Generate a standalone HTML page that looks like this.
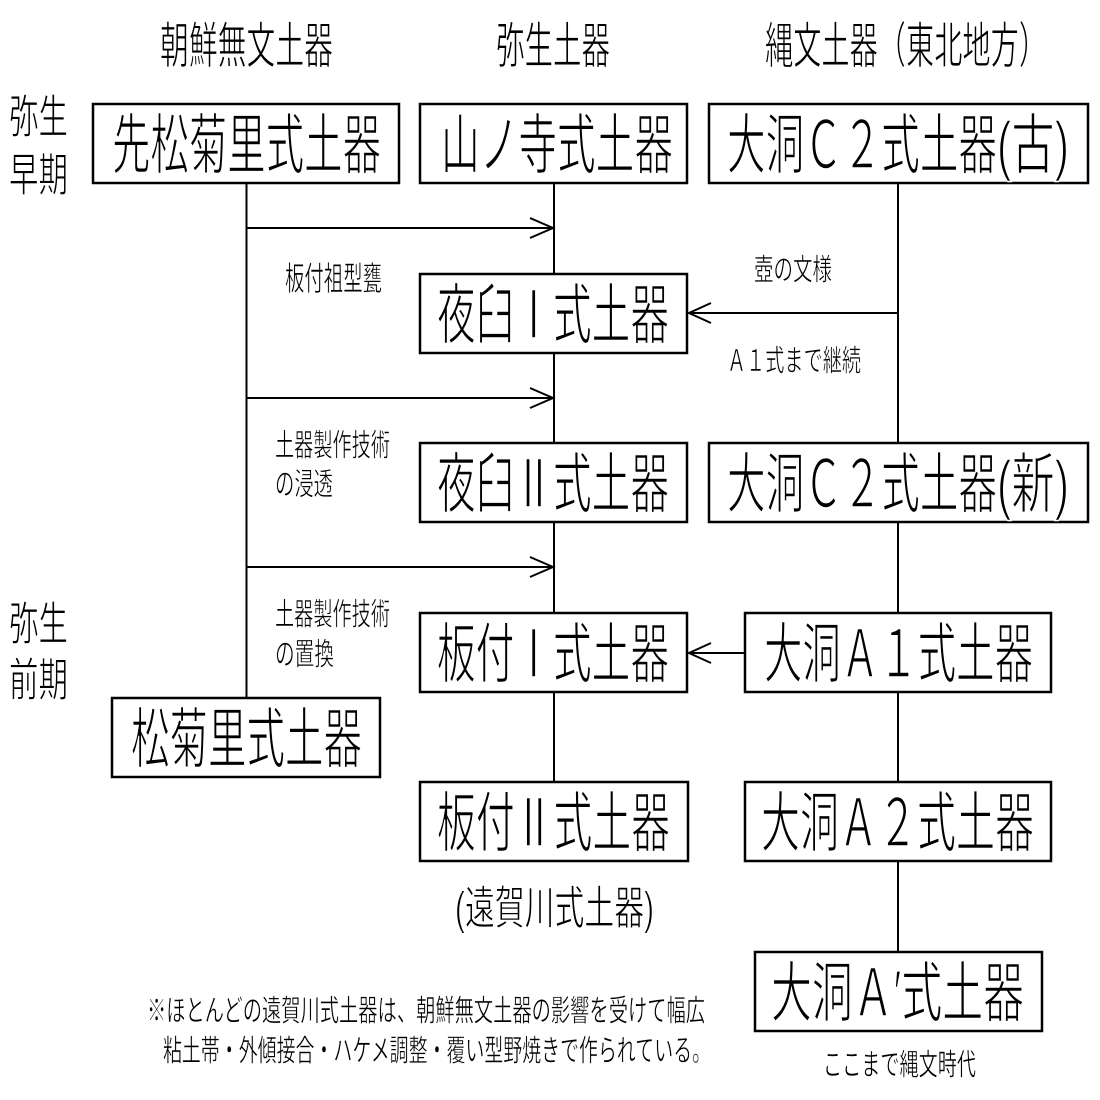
<!DOCTYPE html>
<html><head><meta charset="utf-8"><style>
html,body{margin:0;padding:0;background:#fff;}
svg{display:block;}
text{font-family:"Liberation Sans","Noto Sans CJK JP",sans-serif;fill:#000;}
</style></head><body>
<svg width="1100" height="1100" viewBox="0 0 1100 1100" xmlns="http://www.w3.org/2000/svg">
<rect width="1100" height="1100" fill="#fff"/>
<g stroke="#000" stroke-width="2" fill="none">
<line x1="246.5" y1="183" x2="246.5" y2="698"/>
<line x1="554" y1="183" x2="554" y2="782"/>
<line x1="898" y1="183" x2="898" y2="952"/>
<line x1="246" y1="228" x2="553" y2="228"/>
<polyline points="530,218 553,228 530,238"/>
<line x1="246" y1="398" x2="553" y2="398"/>
<polyline points="530,388 553,398 530,408"/>
<line x1="246" y1="567" x2="553" y2="567"/>
<polyline points="530,557 553,567 530,577"/>
<line x1="898" y1="313" x2="689" y2="313"/>
<polyline points="711,303 689,313 711,323"/>
<line x1="745" y1="653" x2="689" y2="653"/>
<polyline points="711,643 689,653 711,663"/>
</g>
<g stroke="#000" stroke-width="2.5" fill="#fff">
<rect x="93" y="104" width="306" height="79"/>
<rect x="420" y="104" width="267" height="79"/>
<rect x="709" y="104" width="379" height="79"/>
<rect x="420" y="274" width="267" height="79"/>
<rect x="420" y="443" width="267" height="79"/>
<rect x="709" y="443" width="379" height="79"/>
<rect x="420" y="613" width="267" height="79"/>
<rect x="745" y="613" width="306" height="79"/>
<rect x="112" y="698" width="268" height="79"/>
<rect x="420" y="782" width="268" height="79"/>
<rect x="745" y="782" width="306" height="79"/>
<rect x="755" y="952" width="287" height="79"/>
</g>
<g font-size="49.5" stroke="#fff" stroke-width="1">
<text x="160" y="63" textLength="173" lengthAdjust="spacingAndGlyphs">朝鮮無文土器</text>
<text x="496" y="63" textLength="114" lengthAdjust="spacingAndGlyphs">弥生土器</text>
<text x="765" y="63" textLength="282" lengthAdjust="spacingAndGlyphs">縄文土器（東北地方）</text>
</g>
<g font-size="46" stroke="#fff" stroke-width="1">
<text x="9" y="133" textLength="59" lengthAdjust="spacingAndGlyphs">弥生</text>
<text x="9" y="191" textLength="59" lengthAdjust="spacingAndGlyphs">早期</text>
<text x="9" y="640" textLength="59" lengthAdjust="spacingAndGlyphs">弥生</text>
<text x="9" y="696" textLength="59" lengthAdjust="spacingAndGlyphs">前期</text>
</g>
<g font-size="66" stroke="#fff" stroke-width="1.6">
<text x="112" y="168" textLength="269" lengthAdjust="spacingAndGlyphs">先松菊里式土器</text>
<text x="441" y="168" textLength="232" lengthAdjust="spacingAndGlyphs">山ノ寺式土器</text>
<text x="727" y="168" textLength="270" lengthAdjust="spacingAndGlyphs">大洞Ｃ２式土器</text>
<text x="997" y="168" textLength="72" lengthAdjust="spacingAndGlyphs">(古)</text>
<text x="437" y="338" textLength="232" lengthAdjust="spacingAndGlyphs">夜臼Ⅰ式土器</text>
<text x="437" y="507" textLength="232" lengthAdjust="spacingAndGlyphs">夜臼Ⅱ式土器</text>
<text x="727" y="507" textLength="270" lengthAdjust="spacingAndGlyphs">大洞Ｃ２式土器</text>
<text x="997" y="507" textLength="72" lengthAdjust="spacingAndGlyphs">(新)</text>
<text x="437" y="677" textLength="232" lengthAdjust="spacingAndGlyphs">板付Ⅰ式土器</text>
<text x="764" y="677" textLength="269" lengthAdjust="spacingAndGlyphs">大洞Ａ１式土器</text>
<text x="131" y="762" textLength="231" lengthAdjust="spacingAndGlyphs">松菊里式土器</text>
<text x="437" y="846" textLength="233" lengthAdjust="spacingAndGlyphs">板付Ⅱ式土器</text>
<text x="761" y="846" textLength="273" lengthAdjust="spacingAndGlyphs">大洞Ａ２式土器</text>
<text x="771" y="1016" textLength="253" lengthAdjust="spacingAndGlyphs">大洞Ａ′式土器</text>
</g>
<g stroke="#fff" stroke-width="0.6">
<text x="285" y="290" font-size="33" textLength="97" lengthAdjust="spacingAndGlyphs">板付祖型甕</text>
<text x="754" y="280" font-size="30" textLength="78" lengthAdjust="spacingAndGlyphs">壺の文様</text>
<text x="727" y="371" font-size="30" textLength="134" lengthAdjust="spacingAndGlyphs">Ａ１式まで継続</text>
</g>
<g font-size="31" stroke="#fff" stroke-width="0.6">
<text x="275" y="456" textLength="115" lengthAdjust="spacingAndGlyphs">土器製作技術</text>
<text x="275" y="495" textLength="58" lengthAdjust="spacingAndGlyphs">の浸透</text>
<text x="275" y="625" textLength="115" lengthAdjust="spacingAndGlyphs">土器製作技術</text>
<text x="275" y="665" textLength="59" lengthAdjust="spacingAndGlyphs">の置換</text>
</g>
<text x="455" y="924" font-size="46" stroke="#fff" stroke-width="1" textLength="199" lengthAdjust="spacingAndGlyphs">(遠賀川式土器)</text>
<g font-size="30" stroke="#fff" stroke-width="0.5">
<text x="147" y="1021" textLength="558" lengthAdjust="spacingAndGlyphs">※ほとんどの遠賀川式土器は、朝鮮無文土器の影響を受けて幅広</text>
<text x="163" y="1061" textLength="548" lengthAdjust="spacingAndGlyphs">粘土帯・外傾接合・ハケメ調整・覆い型野焼きで作られている。</text>
<text x="823" y="1075" textLength="153" lengthAdjust="spacingAndGlyphs">ここまで縄文時代</text>
</g>
</svg>
</body></html>
